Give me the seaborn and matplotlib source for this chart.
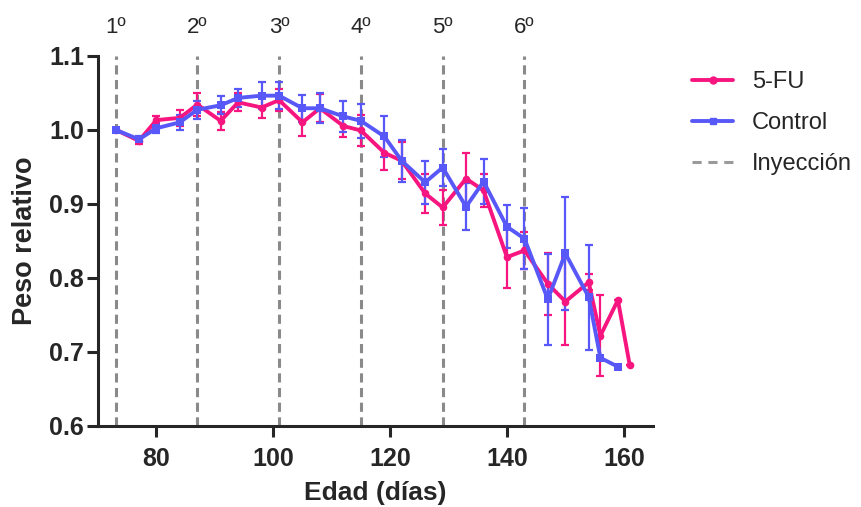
import numpy as np
import pandas as pd
import seaborn as sns
import matplotlib.pyplot as plt
from matplotlib.lines import Line2D
from matplotlib.transforms import blended_transform_factory

# age (days) and relative weight
dias_fu = [73, 77, 80, 84, 87, 91, 94, 98, 101, 105, 108, 112, 115, 119, 122,
           126, 129, 133, 136, 140, 143, 147, 150, 154, 156, 159, 161]
peso_fu = [1.000, 0.985, 1.013, 1.016, 1.034, 1.012, 1.037, 1.030, 1.040, 1.010,
           1.029, 1.005, 0.999, 0.969, 0.958, 0.914, 0.895, 0.934, 0.918, 0.828,
           0.837, 0.792, 0.768, 0.794, 0.722, 0.770, 0.683]
err_fu = [0.000, 0.004, 0.005, 0.011, 0.016, 0.012, 0.012, 0.014, 0.015, 0.019,
          0.019, 0.015, 0.021, 0.024, 0.025, 0.026, 0.024, 0.035, 0.022, 0.042,
          0.025, 0.042, 0.059, 0.011, 0.055, 0.000, 0.000]

dias_ctrl = [73, 77, 80, 84, 87, 91, 94, 98, 101, 105, 108, 112, 115, 119, 122,
             126, 129, 133, 136, 140, 143, 147, 150, 154, 156, 159]
peso_ctrl = [1.000, 0.987, 1.002, 1.010, 1.027, 1.033, 1.043, 1.046, 1.046, 1.029,
             1.029, 1.018, 1.012, 0.991, 0.958, 0.929, 0.949, 0.896, 0.930, 0.869,
             0.853, 0.771, 0.833, 0.774, 0.692, 0.680]
err_ctrl = [0.000, 0.004, 0.007, 0.010, 0.012, 0.012, 0.012, 0.018, 0.018, 0.018,
            0.020, 0.021, 0.023, 0.028, 0.028, 0.029, 0.025, 0.032, 0.030, 0.029,
            0.041, 0.061, 0.076, 0.071, 0.000, 0.000]

inyecciones = [73, 87, 101, 115, 129, 143]
etiquetas_iny = ['1º', '2º', '3º', '4º', '5º', '6º']

grupos = ['5-FU', 'Control']
colores = {'5-FU': '#F7157F', 'Control': '#5858F8'}
marcadores = {'5-FU': 'o', 'Control': 's'}

df = pd.concat([
    pd.DataFrame({'dias': dias_fu, 'peso': peso_fu, 'err': err_fu, 'grupo': '5-FU'}),
    pd.DataFrame({'dias': dias_ctrl, 'peso': peso_ctrl, 'err': err_ctrl, 'grupo': 'Control'}),
])

sns.set_style('ticks')
plt.rcParams['font.family'] = ['Liberation Sans', 'DejaVu Sans']

fig = plt.figure(figsize=(8.61, 5.07), dpi=100)
ax = fig.add_axes([0.1138, 0.1598, 0.6446, 0.7304])

for x in inyecciones:
    ax.axvline(x, color='#8a8a8a', lw=2.2, dashes=(3, 1.8), zorder=1)

for i, g in enumerate(grupos):
    sub = df[df['grupo'] == g]
    ax.errorbar(sub['dias'], sub['peso'], yerr=sub['err'], fmt='none',
                ecolor=colores[g], elinewidth=1.6, capsize=3, capthick=1.6,
                zorder=2 + i)

sns.lineplot(data=df, x='dias', y='peso', hue='grupo', style='grupo',
             hue_order=grupos, style_order=grupos, palette=colores,
             markers=marcadores, dashes=False, markersize=5.5, lw=2.8,
             markeredgewidth=0, estimator=None, sort=False, ax=ax, legend=False,
             zorder=5)

ax.set_xlim(70, 165)
ax.set_ylim(0.6, 1.1)
ax.set_xticks([80, 100, 120, 140, 160])
ax.set_yticks([0.6, 0.7, 0.8, 0.9, 1.0, 1.1])
ax.yaxis.set_major_formatter(plt.FormatStrFormatter('%.1f'))
sns.despine(ax=ax)
for s in ['left', 'bottom']:
    ax.spines[s].set_linewidth(2.2)
ax.tick_params(width=2.2, length=8, labelsize=18)
ax.tick_params(axis='x', pad=7)
ax.tick_params(axis='y', pad=2)
for lab in ax.get_xticklabels() + ax.get_yticklabels():
    lab.set_fontweight('bold')

ax.set_xlabel('Edad (días)', fontsize=19, fontweight='bold', labelpad=7)
ax.set_ylabel('Peso relativo', fontsize=19.5, fontweight='bold', labelpad=8)

trans = blended_transform_factory(ax.transData, ax.transAxes)
for x, t in zip(inyecciones, etiquetas_iny):
    ax.text(x, 1.077, t, transform=trans, ha='center', va='center', fontsize=16)

handles = [
    Line2D([], [], color=colores['5-FU'], lw=2.8, marker='o', markersize=5),
    Line2D([], [], color=colores['Control'], lw=2.8, marker='s', markersize=5),
    Line2D([], [], color='#9a9a9a', lw=2.2, dashes=(3, 2.2)),
]
fig.legend(handles, ['5-FU', 'Control', 'Inyección'], loc='upper left',
           bbox_to_anchor=(0.779, 0.901), frameon=False, fontsize=17,
           handlelength=1.75, handletextpad=0.8, labelspacing=0.8)

fig.savefig('out.png', dpi=100)
